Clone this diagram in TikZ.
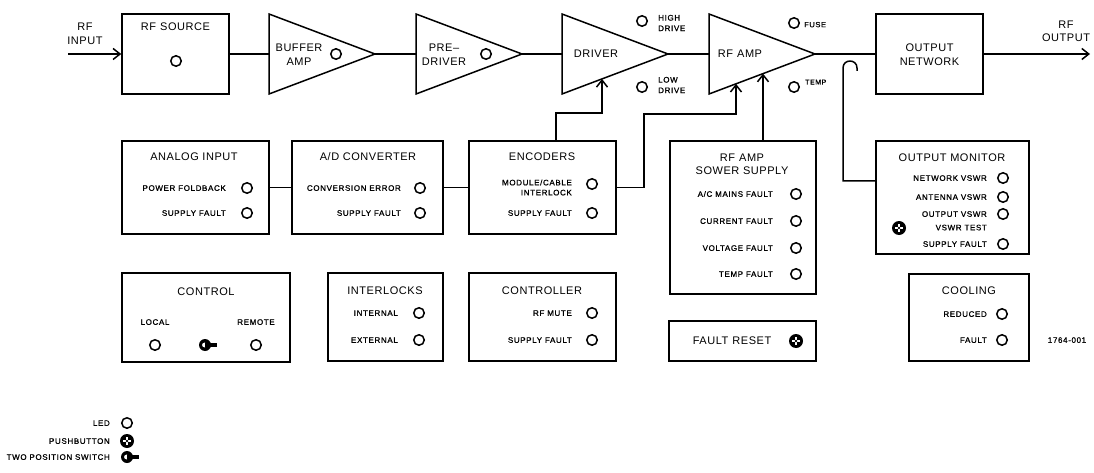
\documentclass[tikz,border=0pt]{standalone}
\usepackage{fontspec}
\setmainfont{Liberation Sans}
\newfontfamily\tfont{Liberation Sans}[LetterSpace=5]
\newfontfamily\sfont{Liberation Sans}[LetterSpace=8,FakeBold=1]
\usetikzlibrary{arrows.meta,calc}
\tikzset{
  blk/.style={draw, line width=1.5pt, inner sep=0pt},
  wire/.style={line width=1.5pt},
  arr/.style={wire, -{Straight Barb[length=7pt,width=11pt,line width=1.5pt]}},
  ttl/.style={font=\tfont\fontsize{11}{13.5}\selectfont, inner sep=0pt, text height=7.9pt, text depth=0pt},
  ttlm/.style={font=\tfont\fontsize{11}{13.5}\selectfont, inner sep=0pt, align=center},
  lab/.style={font=\sfont\fontsize{8}{10}\selectfont, inner sep=0pt, text height=5.7pt, text depth=0pt, anchor=east},
  labm/.style={font=\sfont\fontsize{8}{10}\selectfont, inner sep=0pt, align=right, anchor=east},
  labl/.style={font=\sfont\fontsize{8}{10.5}\selectfont, inner sep=0pt, align=left, anchor=west},
  led/.style={circle, draw, line width=1.5pt, minimum size=10.5pt, inner sep=0pt},
  pb/.style={circle, fill=black, minimum size=14pt, inner sep=0pt, path picture={
      \draw[white, line width=1.3pt]
        ([xshift=-3.6pt]path picture bounding box.center) -- ([xshift=3.6pt]path picture bounding box.center)
        ([yshift=-3.6pt]path picture bounding box.center) -- ([yshift=3.6pt]path picture bounding box.center);
      \fill[black] (path picture bounding box.center) circle (1.3pt);}},
  sw/.style={circle, fill=black, minimum size=12pt, inner sep=0pt, path picture={
      \fill[white] ([xshift=-0.5pt]path picture bounding box.center) circle (2.4pt);}},
}
\begin{document}
\begin{tikzpicture}[x=1pt,y=-1pt]
\useasboundingbox (0,0) rectangle (1094,473);

% ---------- top chain ----------
\node[ttlm] (rfin) at (85,34) {RF\\INPUT};
\coordinate (inStart) at (68,54);
\node[blk, minimum width=107pt, minimum height=80pt] (rfsrc) at (175.5,54) {};
\node[ttl] (rfsrcT) at (175.5,27) {RF\hspace{4pt}SOURCE};
\node[led] (rfsrcL) at (176,61) {};

% buffer amp
\coordinate (bufIn) at (269,54);
\coordinate (bufOut) at (375,54);
\draw[wire] (269,14) -- (bufOut) -- (269,94) -- cycle;
\node[ttlm] (bufT) at (299,54.5) {BUFFER\\AMP};
\node[led] (bufL) at (336,54) {};

% pre-driver
\coordinate (preIn) at (416,54);
\coordinate (preOut) at (522,54);
\draw[wire] (416,14) -- (preOut) -- (416,94) -- cycle;
\node[ttlm] (preT) at (444,54.5) {PRE–\\DRIVER};
\node[led] (preL) at (486,54) {};

% driver
\coordinate (drvIn) at (562,54);
\coordinate (drvOut) at (668,54);
\draw[wire] (562,14) -- (drvOut) -- (562,94) -- cycle;
\node[ttl] (drvT) at (596,54) {DRIVER};
\coordinate (drvCtl) at (602,78.9);
\node[led] (hiL) at (642,21) {};
\node[labl] (hiT) at (658,23) {HIGH\\DRIVE};
\node[led] (loL) at (642,87) {};
\node[labl] (loT) at (658,85) {LOW\\DRIVE};

% rf amp
\coordinate (ampIn) at (709,54);
\coordinate (ampOut) at (815,54);
\draw[wire] (709,14) -- (ampOut) -- (709,94) -- cycle;
\node[ttl] (ampT) at (740,54) {RF\hspace{4pt}AMP};
\coordinate (ampCtl1) at (736,83.8);
\coordinate (ampCtl2) at (763,73.6);
\node[led] (fuseL) at (794,23) {};
\node[font=\sfont\fontsize{7.5}{9}\selectfont, inner sep=0pt, anchor=west, text height=5.4pt, text depth=0pt] (fuseT) at (804,24.5) {FUSE};
\node[led] (tempL) at (794,87) {};
\node[font=\sfont\fontsize{7}{9}\selectfont, inner sep=0pt, anchor=west, text height=5pt, text depth=0pt] (tempT) at (805,82) {TEMP};

% output network
\node[blk, minimum width=107pt, minimum height=80pt] (onet) at (929.5,54) {};
\node[ttlm] (onetT) at (929.5,54.5) {OUTPUT\\NETWORK};
\coordinate (outEnd) at (1090,54);
\node[ttlm] (rfout) at (1066,31.5) {RF\\OUTPUT};

\draw[arr] (inStart) -- (rfsrc.west);
\draw[wire] (rfsrc.east) -- (bufIn);
\draw[wire] (bufOut) -- (preIn);
\draw[wire] (preOut) -- (drvIn);
\draw[wire] (drvOut) -- (ampIn);
\draw[wire] (ampOut) -- (onet.west);
\draw[arr] (onet.east) -- (outEnd);

% ---------- second row ----------
\node[blk, minimum width=147pt, minimum height=93pt] (ana) at (195.5,187.5) {};
\node[ttl] (anaT) at (194,157) {ANALOG INPUT};
\node[lab] (anaA) at (226,188) {POWER FOLDBACK};
\node[led] (anaAL) at (247,188) {};
\node[lab] (anaB) at (226,213) {SUPPLY FAULT};
\node[led] (anaBL) at (247,213) {};

\node[blk, minimum width=151pt, minimum height=93pt] (adc) at (367.5,187.5) {};
\node[ttl] (adcT) at (368,157) {A/D CONVERTER};
\node[lab] (adcA) at (401,188) {CONVERSION ERROR};
\node[led] (adcAL) at (420,188) {};
\node[lab] (adcB) at (401,213) {SUPPLY FAULT};
\node[led] (adcBL) at (420,213) {};

\node[blk, minimum width=147pt, minimum height=93pt] (enc) at (542.5,187.5) {};
\node[ttl] (encT) at (542,157) {ENCODERS};
\node[labm] (encA) at (572,187.5) {MODULE/CABLE\\INTERLOCK};
\node[led] (encAL) at (592,184) {};
\node[lab] (encB) at (572,213) {SUPPLY FAULT};
\node[led] (encBL) at (592,213) {};

\node[blk, minimum width=146pt, minimum height=153pt] (pws) at (743,217.5) {};
\node[ttlm] (pwsT) at (742,164.5) {RF\hspace{4pt}AMP\\SOWER SUPPLY};
\node[lab] (pwsA) at (773,194) {A/C MAINS FAULT};
\node[led] (pwsAL) at (796,194) {};
\node[lab] (pwsB) at (773,221) {CURRENT FAULT};
\node[led] (pwsBL) at (796,221) {};
\node[lab] (pwsC) at (773,248) {VOLTAGE FAULT};
\node[led] (pwsCL) at (796,248) {};
\node[lab] (pwsD) at (773,274) {TEMP FAULT};
\node[led] (pwsDL) at (796,274) {};

\node[blk, minimum width=153pt, minimum height=113pt] (omon) at (952.5,197.5) {};
\node[ttl] (omonT) at (952,158) {OUTPUT MONITOR};
\node[lab] (omonA) at (987,178) {NETWORK VSWR};
\node[led] (omonAL) at (1003,178) {};
\node[lab] (omonB) at (987,197) {ANTENNA VSWR};
\node[led] (omonBL) at (1003,197) {};
\node[lab] (omonC) at (987,214) {OUTPUT VSWR};
\node[led] (omonCL) at (1003,214) {};
\node[lab] (omonD) at (987,227.5) {VSWR TEST};
\node[pb] (omonDP) at (899,228) {};
\node[lab] (omonE) at (987,244) {SUPPLY FAULT};
\node[led] (omonEL) at (1003,244) {};

% connectors of row 2
\draw[wire] (ana.east) -- (adc.west);
\draw[wire] (adc.east) -- (enc.west);
\draw[arr] ([xshift=13.5pt]enc.north) -- ++(0,-27) -| (drvCtl);
\draw[arr] (enc.east) -- ++(27,0) -- ++(0,-73.5) -| (ampCtl1);
\draw[arr] (pws.north -| ampCtl2) -- (ampCtl2);
\coordinate (hookL) at (843,68);
\coordinate (hookR) at (857,68);
\draw[wire] ([yshift=16.5pt]omon.west) -| (hookL) .. controls +(0,-9.3) and +(0,-9.3) .. (hookR) -- ++(0,3);

% ---------- third row ----------
\node[blk, minimum width=168pt, minimum height=89pt] (ctl) at (206,317.5) {};
\node[ttl] (ctlT) at (206,292) {CONTROL};
\node[lab, anchor=center] (ctlA) at (155,322) {LOCAL};
\node[lab, anchor=center] (ctlB) at (256,322) {REMOTE};
\node[led] (ctlAL) at (155,345) {};
\node[sw] (ctlS) at (205,345) {};
\fill ([yshift=-1.7pt]ctlS.center) rectangle ([xshift=12pt,yshift=1.7pt]ctlS.center);
\node[led] (ctlBL) at (256,345) {};

\node[blk, minimum width=115pt, minimum height=88pt] (intl) at (385.5,317) {};
\node[ttl] (intlT) at (385,291) {INTERLOCKS};
\node[lab] (intlA) at (398,313) {INTERNAL};
\node[led] (intlAL) at (419,313) {};
\node[lab] (intlB) at (398,340) {EXTERNAL};
\node[led] (intlBL) at (419,340) {};

\node[blk, minimum width=147pt, minimum height=88pt] (ctr) at (542.5,317) {};
\node[ttl] (ctrT) at (542,291) {CONTROLLER};
\node[lab] (ctrA) at (572,313) {RF MUTE};
\node[led] (ctrAL) at (592,313) {};
\node[lab] (ctrB) at (572,340) {SUPPLY FAULT};
\node[led] (ctrBL) at (592,340) {};

\node[blk, minimum width=147pt, minimum height=40pt] (frst) at (742.5,341) {};
\node[ttl] (frstT) at (732,341) {FAULT\hspace{4pt}RESET};
\node[pb] (frstP) at (796,341) {};

\node[blk, minimum width=120pt, minimum height=87pt] (cool) at (969,317.5) {};
\node[ttl] (coolT) at (969,291) {COOLING};
\node[lab] (coolA) at (987,314) {REDUCED};
\node[led] (coolAL) at (1002,314) {};
\node[lab] (coolB) at (987,340) {FAULT};
\node[led] (coolBL) at (1002,340) {};

\node[lab, anchor=center] (dwg) at (1067,340) {1764-001};

% ---------- legend ----------
\node[lab] (lgA) at (110,423) {LED};
\node[led] (lgAL) at (127,423) {};
\node[lab] (lgB) at (110,441) {PUSHBUTTON};
\node[pb] (lgBP) at (127,441) {};
\node[lab] (lgC) at (110,457) {TWO POSITION SWITCH};
\node[sw] (lgCS) at (127,457) {};
\fill ([yshift=-1.7pt]lgCS.center) rectangle ([xshift=12pt,yshift=1.7pt]lgCS.center);
\end{tikzpicture}
\end{document}
